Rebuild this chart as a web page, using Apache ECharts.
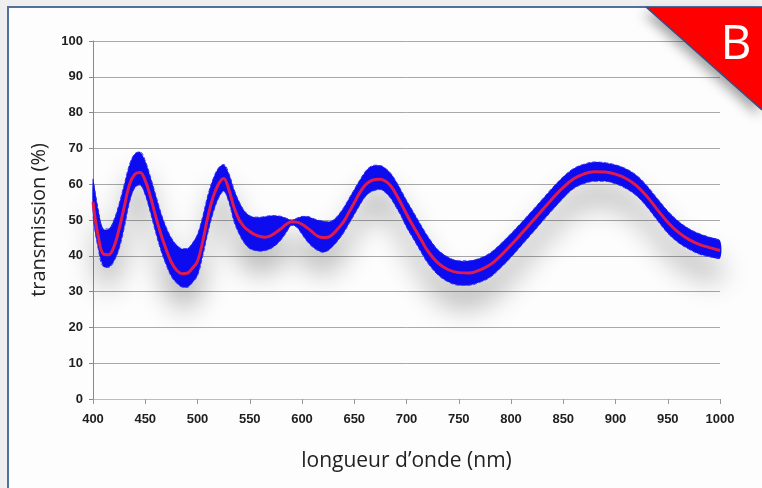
<!DOCTYPE html>
<html>
<head>
<meta charset="utf-8">
<script src="https://cdn.jsdelivr.net/npm/echarts@6/dist/echarts.min.js"></script>
<style>
  html, body { margin: 0; padding: 0; background: #efefef; }
  #frame { position: absolute; left: 7px; top: 6px; width: 800px; height: 520px; background: #fdfdfd; border: 2px solid #50709f; }
  #main { position: absolute; left: 0; top: 0; width: 762px; height: 488px; }
</style>
</head>
<body>
<div id="frame"></div>
<div id="main"></div>
<script>
  // longueurs d'onde (nm)
  var wavelengths = [400, 405, 410, 415, 420, 425, 430, 435, 440, 445, 450, 455, 460, 465, 470, 475, 480, 485, 490, 495,
    500, 505, 510, 515, 520, 525, 530, 535, 540, 545, 550, 555, 560, 565, 570, 575, 580, 585, 590, 595,
    600, 605, 610, 615, 620, 625, 630, 635, 640, 645, 650, 655, 660, 665, 670, 675, 680, 685, 690, 695,
    700, 705, 710, 715, 720, 730, 740, 750, 760, 770, 780, 790, 800, 810, 820, 830, 840, 850, 860, 870,
    880, 890, 900, 910, 920, 930, 940, 950, 960, 970, 980, 990, 1000];

  // courbe moyenne (rouge)
  var meanT = [55, 45.5, 40.5, 40.3, 42.5, 47.5, 53.8, 60, 62.8, 63.3, 61, 56.5, 51, 46, 41.8, 38.2, 36, 35, 35.1, 36.5,
    38.5, 44, 51, 56.5, 60, 61.6, 58.5, 53.5, 50, 48, 46.8, 45.9, 45.4, 45.2, 45.6, 46.5, 47.6, 48.8, 49.5, 49.4,
    48.8, 47.8, 46.6, 45.5, 45.1, 45.2, 46.2, 47.8, 49.6, 52.2, 54.8, 57.5, 59.6, 60.8, 61.3, 61.4, 60.8, 59.5, 57.2, 54.5,
    51.7, 49, 46.5, 44, 41.5, 38, 36.1, 35.3, 35.2, 36, 37.5, 40, 43, 46.2, 49.5, 52.8, 56.1, 59.1, 61.5, 62.9,
    63.5, 63.4, 62.8, 61.6, 59.6, 56.6, 52.9, 49.4, 46.6, 44.6, 43.2, 42.3, 41.5];

  // enveloppe haute des mesures (bleu)
  var upperT = [61.5, 53, 47.5, 47.5, 50, 54.5, 60, 65.5, 68.5, 69, 66.5, 62, 57, 52, 48, 45, 43, 42, 42, 43.5,
    46, 51, 57, 61.5, 64.5, 65.5, 63, 58.5, 55, 52.5, 51.2, 50.8, 50.8, 51, 51.2, 51.2, 51, 50.5, 50, 50.5,
    51, 51, 50.5, 50, 49.7, 49.5, 50, 51.5, 53.5, 56, 58.5, 61, 63.3, 64.8, 65.3, 65.2, 64.4, 63, 60.8, 58.2,
    55.5, 53, 50.5, 48, 45.6, 41.7, 39.6, 38.6, 38.6, 39.3, 40.8, 43.3, 46.2, 49.3, 52.5, 55.8, 59.1, 62.1, 64.4, 65.6,
    66.2, 66, 65.4, 64.3, 62.5, 59.6, 56, 52.5, 49.7, 47.6, 46.2, 45.2, 44.3];

  // enveloppe basse des mesures (bleu)
  var lowerT = [51, 42, 37, 36.8, 38.5, 42, 48, 55, 59, 59.8, 57, 52, 46.5, 41.5, 37.5, 34.2, 32.4, 31.3, 31.2, 32.5,
    34.5, 40, 46.5, 52, 56, 58, 55, 49.5, 46, 43.5, 42, 41.5, 41.3, 41.5, 42, 43, 44.5, 46.5, 48.5, 48,
    46, 44, 42.5, 41.5, 41, 41.5, 42.8, 44.5, 46.5, 49, 51.5, 54, 56.3, 57.7, 58.3, 58.5, 57.6, 56, 53.6, 51,
    48, 45.5, 43, 40.5, 38.1, 34.7, 32.7, 31.8, 31.8, 32.6, 34, 36.6, 39.6, 42.9, 46.2, 49.6, 52.9, 56.1, 58.8, 60.2,
    60.8, 60.8, 60.1, 58.8, 56.8, 53.7, 49.9, 46.3, 43.7, 41.9, 40.5, 39.7, 39.3];

  var xTicks = [400, 450, 500, 550, 600, 650, 700, 750, 800, 850, 900, 950, 1000];
  var yTicks = [0, 10, 20, 30, 40, 50, 60, 70, 80, 90, 100];

  var bandData = wavelengths.map(function (w, i) { return [w, lowerT[i], upperT[i]]; });
  var lowerData = wavelengths.map(function (w, i) { return [w, lowerT[i]]; });
  var upperData = wavelengths.map(function (w, i) { return [w, upperT[i]]; });
  var meanData = wavelengths.map(function (w, i) { return [w, meanT[i]]; });

  var labelFont = { fontFamily: 'Liberation Sans', fontWeight: 'bold', fontSize: 13, color: '#1e1e1e' };

  // faisceau bleu : un seul polygone entre l'enveloppe basse et haute
  function renderBand(params, api) {
    if (params.dataIndexInside !== 0) {
      return null;
    }
    var n = bandData.length;
    var top = [], bottom = [];
    for (var i = 0; i < n; i++) {
      top.push(api.coord([api.value(0, i), api.value(2, i)]));
      bottom.push(api.coord([api.value(0, i), api.value(1, i)]));
    }
    return {
      type: 'polygon',
      shape: { points: top.concat(bottom.reverse()), smooth: 0.3 },
      style: {
        fill: '#0c0cee',
        shadowColor: 'rgba(0,0,0,0.3)',
        shadowBlur: 28,
        shadowOffsetY: 22
      }
    };
  }

  var myChart = echarts.init(document.getElementById('main'));
  myChart.setOption({
    animation: false,
    backgroundColor: 'transparent',
    grid: { left: 93, right: 42, top: 41, bottom: 89 },
    xAxis: {
      type: 'value',
      min: xTicks[0],
      max: xTicks[xTicks.length - 1],
      interval: 50,
      name: 'longueur d\u2019onde (nm)',
      nameLocation: 'middle',
      nameGap: 52,
      nameTextStyle: { fontFamily: 'Open Sans', fontSize: 21, color: '#222' },
      axisLine: { lineStyle: { color: '#bdbdbd' } },
      axisTick: { show: true, length: 5, lineStyle: { color: '#9a9a9a' } },
      axisLabel: Object.assign({ margin: 14, formatter: function (v) { return String(v); } }, labelFont),
      splitLine: { show: false }
    },
    yAxis: {
      type: 'value',
      min: yTicks[0],
      max: yTicks[yTicks.length - 1],
      interval: 10,
      name: 'transmission (%)',
      nameLocation: 'middle',
      nameGap: 44,
      nameTextStyle: { fontFamily: 'Open Sans', fontSize: 20, color: '#222' },
      axisLine: { show: true, lineStyle: { color: '#8a8a8a' } },
      axisTick: { show: true, length: 4, lineStyle: { color: '#8a8a8a' } },
      axisLabel: Object.assign({ margin: 10 }, labelFont),
      splitLine: { lineStyle: { color: '#a8a8a8', width: 1 } }
    },
    series: [
      {
        name: 'mesures',
        type: 'custom',
        renderItem: renderBand,
        data: bandData,
        encode: { x: 0, y: [1, 2] },
        z: 2
      },
      {
        name: 'min',
        type: 'line',
        data: lowerData,
        smooth: 0.4,
        symbol: 'none',
        z: 3,
        lineStyle: { color: '#3030ff', width: 1, type: 'dashed' }
      },
      {
        name: 'max',
        type: 'line',
        data: upperData,
        smooth: 0.4,
        symbol: 'none',
        z: 3,
        lineStyle: { color: '#3030ff', width: 1, type: 'dashed' }
      },
      {
        name: 'moyenne',
        type: 'line',
        data: meanData,
        smooth: 0.4,
        symbol: 'none',
        z: 5,
        lineStyle: { color: '#e01a4c', width: 3 }
      }
    ],
    graphic: [
      {
        type: 'polygon',
        z: 100,
        shape: { points: [[646, 7], [762, 7], [762, 110]] },
        style: {
          fill: '#ff0000',
          shadowColor: 'rgba(0,0,0,0.35)',
          shadowBlur: 12,
          shadowOffsetX: -4,
          shadowOffsetY: 6
        }
      },
      {
        type: 'line',
        z: 101,
        shape: { x1: 646, y1: 7, x2: 762, y2: 110 },
        style: { stroke: '#3a4c82', lineWidth: 1.5 }
      },
      {
        type: 'text',
        z: 102,
        x: 736,
        y: 45,
        style: {
          text: 'B',
          fill: '#ffffff',
          font: '48px "Open Sans"',
          textAlign: 'center',
          textVerticalAlign: 'middle'
        }
      }
    ]
  });
  window.addEventListener('resize', function () {
    myChart.resize();
  });
</script>
</body>
</html>
